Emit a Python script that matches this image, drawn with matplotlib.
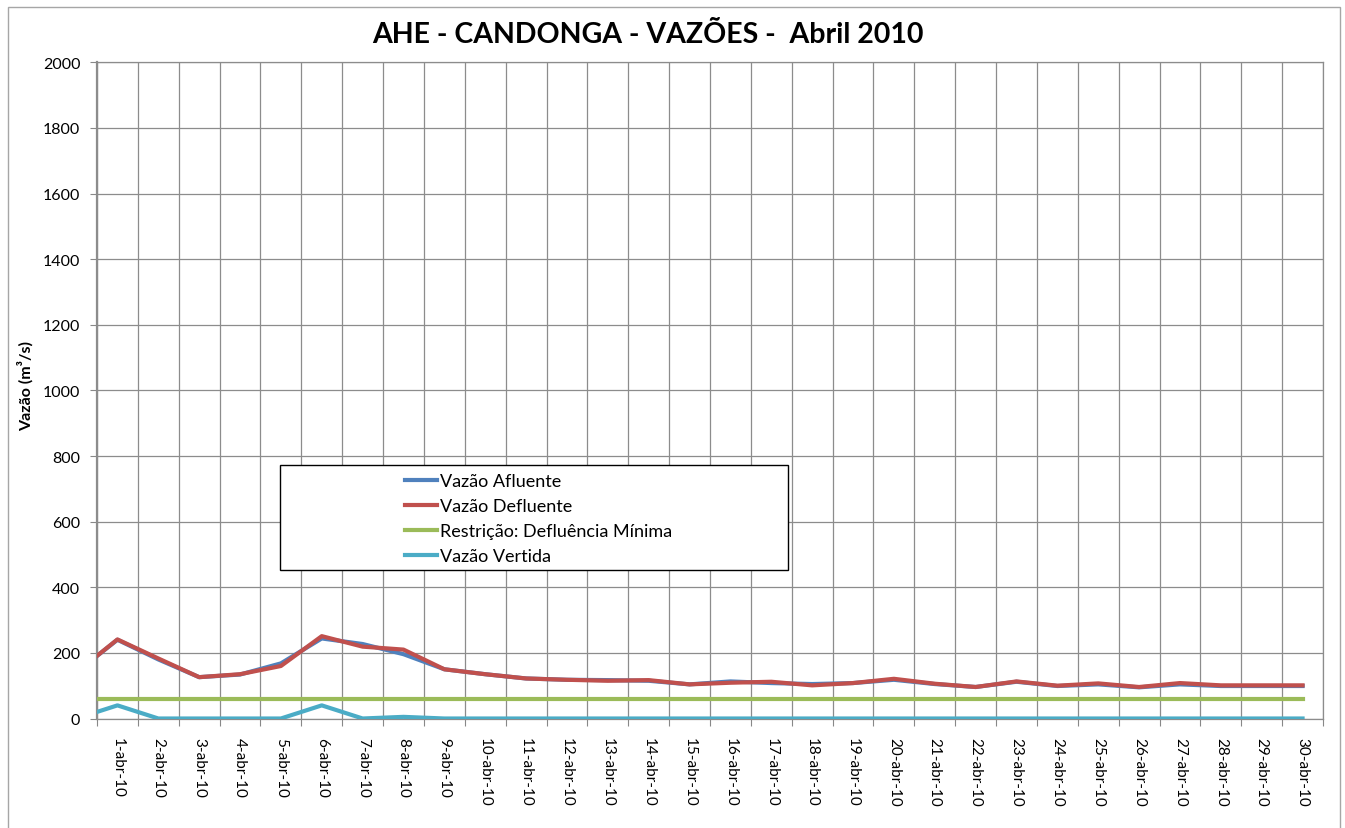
import matplotlib.pyplot as plt
from matplotlib.patches import Rectangle
from matplotlib.ticker import FixedLocator, NullFormatter

plt.rcParams['font.family'] = ['Lato', 'DejaVu Sans']

# daily values, first entry is 31-mar (clipped at the left edge)
days = list(range(0, 31))
tick_days = list(range(1, 31))
tick_labels = [f"{d}-abr-10" for d in tick_days]

afluente = [141, 240, 180, 126, 134, 168, 244, 227, 196, 150, 135,
            122, 118, 117, 115, 104, 113, 108, 105, 108, 118,
            105, 96, 112, 99, 104, 95, 104, 99, 99, 99]
defluente = [141, 241, 183, 126, 135, 160, 251, 219, 210, 150, 135,
             122, 118, 115, 117, 104, 109, 112, 101, 108, 121,
             106, 96, 113, 100, 107, 96, 108, 101, 101, 101]
restricao = [58, 58, 58, 58, 58, 58, 58, 58, 58, 58, 58,
             58, 58, 58, 58, 58, 58, 58, 58, 58, 58,
             58, 58, 58, 58, 58, 58, 58, 58, 58, 58]
vertida = [0, 40, 0, 0, 0, 0, 40, 0, 5, 0, 0,
           0, 0, 0, 0, 0, 0, 0, 0, 0, 0,
           0, 0, 0, 0, 0, 0, 0, 0, 0, 0]

W, H = 1345, 829
fig = plt.figure(figsize=(W / 100, H / 100), dpi=100)
ax = fig.add_axes([97 / W, 1 - 719.5 / H, (1323 - 97) / W, (719.5 - 63.3) / H])

# outer chart border
fig.patches.append(Rectangle((8 / W, -0.01), (1340 - 8) / W, 1 - 8 / H + 0.01,
                             transform=fig.transFigure, fill=False,
                             edgecolor='#a6a6a6', linewidth=1))

x = [d - 0.5 for d in days]
lw = 3
ax.plot(x, afluente, color='#4F81BD', lw=lw, label='Vazão Afluente', zorder=3)
ax.plot(x, defluente, color='#C0504D', lw=lw, label='Vazão Defluente', zorder=3)
ax.plot(x, restricao, color='#9BBB59', lw=lw, label='Restrição: Defluência Mínima', zorder=3)
ax.plot(x, vertida, color='#4BACC6', lw=lw, label='Vazão Vertida', zorder=3)

ax.set_xlim(0, 30)
ax.set_ylim(0, 2000)
ax.set_yticks(range(0, 2001, 200))

ax.xaxis.set_major_locator(FixedLocator(range(0, 31)))
ax.xaxis.set_major_formatter(NullFormatter())
ax.xaxis.set_minor_locator(FixedLocator([d - 0.5 for d in tick_days]))
ax.set_xticklabels(tick_labels, minor=True, rotation=270, fontsize=11)
ax.tick_params(axis='x', which='major', length=5, color='#888888')
ax.tick_params(axis='x', which='minor', length=0, pad=13)
ax.tick_params(axis='y', length=5, color='#888888', pad=7, labelsize=11.5)

ax.grid(True, which='major', color='#8c8c8c', linewidth=0.9, zorder=1)
ax.set_axisbelow(True)
for side in ['top', 'right', 'bottom']:
    ax.spines[side].set_color('#8c8c8c')
    ax.spines[side].set_linewidth(0.9)
ax.spines['left'].set_color('#8c8c8c')
ax.spines['left'].set_linewidth(1.6)

fig.text(648 / W, 1 - 43.3 / H, 'AHE - CANDONGA - VAZÕES -  Abril 2010',
         ha='center', va='baseline', fontsize=20.5, fontweight='bold')
fig.text(25 / W, 1 - 386.5 / H, 'Vazão (m³/s)', rotation=90,
         ha='center', va='center', fontsize=11.5, fontweight='bold')

# legend box drawn by hand, entries placed inside
box = Rectangle((280 / W, 1 - 570.7 / H), (788 - 280) / W, (570.7 - 465.7) / H,
                transform=fig.transFigure, facecolor='white', edgecolor='black',
                linewidth=1, zorder=5)
ax.add_patch(box)
box.set_clip_on(False)
leg = ax.legend(loc='upper left', bbox_to_anchor=(398 / W, 1 - 467 / H),
                bbox_transform=fig.transFigure, frameon=False, fontsize=13,
                handlelength=1.75, handletextpad=0.2, labelspacing=0.5,
                borderaxespad=0)
leg.set_zorder(6)

fig.savefig('out.png', dpi=100)
